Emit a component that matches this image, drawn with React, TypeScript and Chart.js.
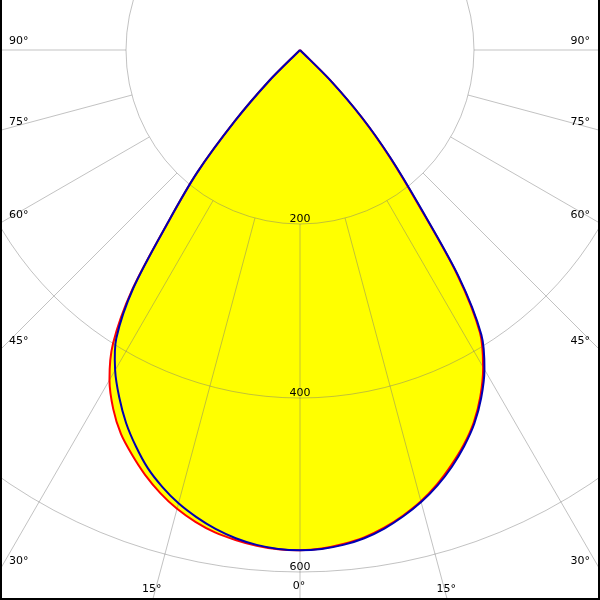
import React, { useEffect, useRef } from "react";
import { Chart, registerables } from "chart.js";

Chart.register(...registerables);

// Gamma angles (degrees from nadir)
const angles = [0, 2.5, 5, 7.5, 10, 12.5, 15, 17.5, 20, 22.5, 25, 27.5, 30, 32.5, 35, 37.5, 40, 42.5, 45, 47.5, 50, 60, 70, 80, 90];
// Luminous intensity (cd) per plane
const c0 = [575, 573.5, 570, 565, 557.5, 548, 537, 523.5, 508, 491.5, 472.5, 449, 421, 385, 315, 222, 160, 105, 49, 0, 0, 0, 0, 0, 0];
const c180 = [575, 574.5, 572, 568, 563, 555.5, 546, 534, 520, 504, 487, 465, 438, 400, 336, 248, 184, 111, 50, 0, 0, 0, 0, 0, 0];
const c90 = [575, 574, 571, 566, 558.5, 549, 538, 525, 510, 493, 474, 451, 424, 388, 318, 225, 162, 106, 49, 0, 0, 0, 0, 0, 0];
const c270 = [575, 574, 571, 566, 559, 550, 539.5, 526.5, 511.5, 493, 473, 450, 425, 393, 334, 248, 184, 111, 50, 0, 0, 0, 0, 0, 0];

const gridRadii = [200, 400, 600];
const gridAngles = [-90, -75, -60, -45, -30, -15, 0, 15, 30, 45, 60, 75, 90];
const sideLabelAngles = [30, 45, 60, 75, 90];

function polarCurve(left: number[], right: number[]) {
  const pts: { x: number; y: number }[] = [];
  for (let i = angles.length - 1; i >= 0; i--) {
    const t = (angles[i] * Math.PI) / 180;
    pts.push({ x: -left[i] * Math.sin(t), y: -left[i] * Math.cos(t) });
  }
  for (let i = 1; i < angles.length; i++) {
    const t = (angles[i] * Math.PI) / 180;
    pts.push({ x: right[i] * Math.sin(t), y: -right[i] * Math.cos(t) });
  }
  return pts;
}

const FONT = '11px "DejaVu Sans"';

const gridPlugin = {
  id: "polarGrid",
  beforeDatasetDraw(chart: any, args: any) {
    if (args.index !== 2) return;
    const ctx = chart.ctx;
    const xs = chart.scales.x;
    const ys = chart.scales.y;
    const cx = xs.getPixelForValue(0);
    const cy = ys.getPixelForValue(0);
    const k = xs.getPixelForValue(1) - cx;
    const area = chart.chartArea;
    ctx.save();
    ctx.beginPath();
    ctx.rect(area.left, area.top, area.right - area.left, area.bottom - area.top);
    ctx.clip();
    ctx.strokeStyle = "rgba(120,120,120,0.45)";
    ctx.lineWidth = 1;
    for (const r of gridRadii) {
      ctx.beginPath();
      ctx.arc(cx, cy, r * k, 0, Math.PI * 2);
      ctx.stroke();
    }
    const r0 = gridRadii[0] * k;
    for (const a of gridAngles) {
      const t = (a * Math.PI) / 180;
      ctx.beginPath();
      ctx.moveTo(cx + r0 * Math.sin(t), cy + r0 * Math.cos(t));
      ctx.lineTo(cx + 2000 * Math.sin(t), cy + 2000 * Math.cos(t));
      ctx.stroke();
    }
    ctx.restore();
  },
  afterDatasetsDraw(chart: any) {
    const ctx = chart.ctx;
    const xs = chart.scales.x;
    const ys = chart.scales.y;
    const cx = xs.getPixelForValue(0);
    const cy = ys.getPixelForValue(0);
    const k = xs.getPixelForValue(1) - cx;
    const area = chart.chartArea;
    ctx.save();
    ctx.fillStyle = "#000";
    ctx.font = FONT;
    ctx.textBaseline = "alphabetic";
    ctx.textAlign = "center";
    for (const r of gridRadii) {
      ctx.fillText(String(r), cx, cy + r * k - 2);
    }
    ctx.textBaseline = "middle";
    for (const a of sideLabelAngles) {
      const t = (a * Math.PI) / 180;
      const hitY = cy + (cx - area.left) / Math.tan(t);
      ctx.textAlign = "left";
      ctx.fillText(a + "°", area.left + 9, hitY - 8.5);
      ctx.textAlign = "right";
      ctx.fillText(a + "°", area.right - 10, hitY - 8.5);
    }
    const t15 = (15 * Math.PI) / 180;
    const dx15 = (area.bottom - cy) * Math.tan(t15);
    ctx.textAlign = "center";
    ctx.fillText("15°", cx - dx15 - 1, area.bottom - 11);
    ctx.fillText("15°", cx + dx15 - 1, area.bottom - 11);
    ctx.fillText("0°", cx - 1, area.bottom - 14);
    ctx.restore();
  },
  afterDraw(chart: any) {
    const ctx = chart.ctx;
    const w = chart.width;
    const h = chart.height;
    ctx.save();
    ctx.fillStyle = "#000";
    ctx.fillRect(0, 0, 2, h);
    ctx.fillRect(w - 2, 0, 2, h);
    ctx.fillRect(0, h - 2, w, 2);
    ctx.restore();
  },
};

export default function App() {
  const ref = useRef<HTMLCanvasElement | null>(null);
  useEffect(() => {
    if (!ref.current) return;
    const K = 0.87;
    const redPts = polarCurve(c180, c0);
    const bluePts = polarCurve(c270, c90);
    const common = { showLine: true, pointRadius: 0, tension: 0.3 };
    const chart = new Chart(ref.current, {
      type: "scatter",
      data: {
        datasets: [
          { ...common, label: "C0-C180 fill", data: redPts, fill: "shape", backgroundColor: "#ffff00", borderWidth: 0, borderColor: "rgba(0,0,0,0)", order: 4 },
          { ...common, label: "C90-C270 fill", data: bluePts, fill: "shape", backgroundColor: "#ffff00", borderWidth: 0, borderColor: "rgba(0,0,0,0)", order: 3 },
          { ...common, label: "C0-C180", data: redPts, fill: false, borderColor: "#ff0000", borderWidth: 2, order: 2 },
          { ...common, label: "C90-C270", data: bluePts, fill: false, borderColor: "#0000b4", borderWidth: 2, order: 1 },
        ],
      } as any,
      options: {
        animation: false,
        responsive: true,
        maintainAspectRatio: false,
        layout: { padding: 0 },
        plugins: { legend: { display: false }, tooltip: { enabled: false } },
        events: [],
        scales: {
          x: { type: "linear", display: false, min: -300 / K, max: 300 / K },
          y: { type: "linear", display: false, min: -550 / K, max: 50 / K },
        },
      },
      plugins: [gridPlugin],
    });
    return () => chart.destroy();
  }, []);
  return (
    <div style={{ position: "fixed", left: 0, top: 0, width: 600, height: 600, background: "#fff" }}>
      <canvas ref={ref} />
    </div>
  );
}
